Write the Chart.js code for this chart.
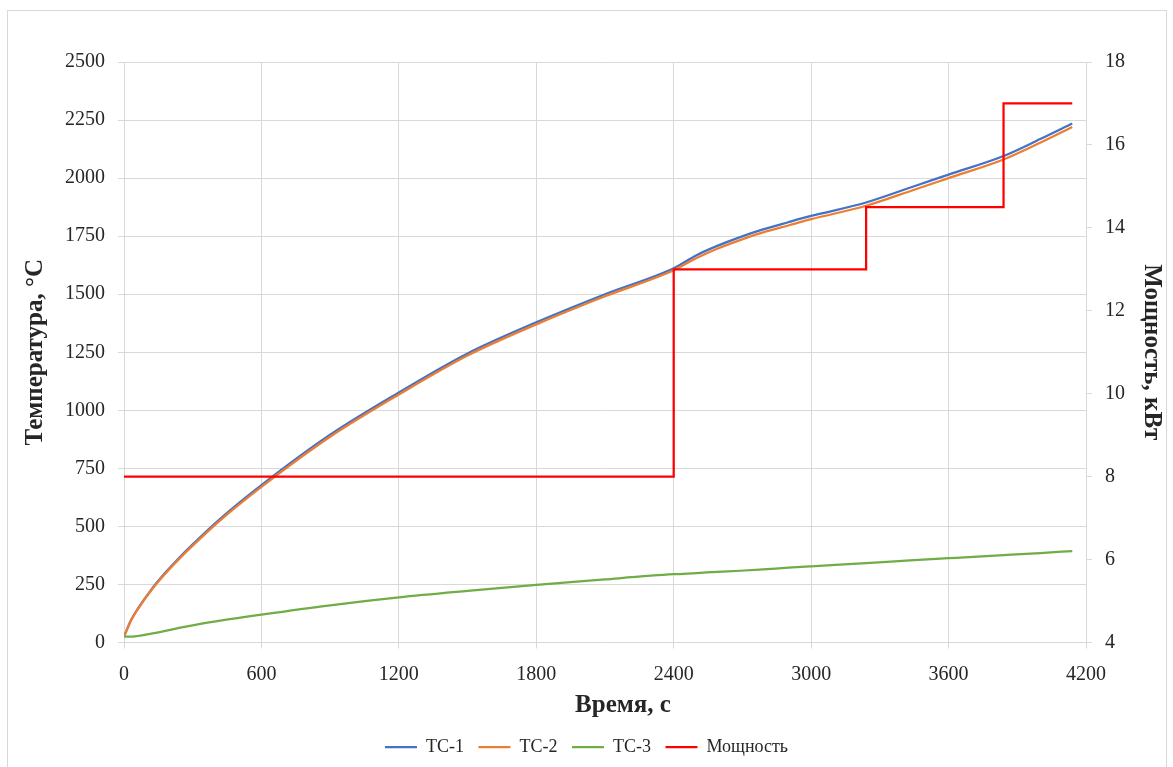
<!DOCTYPE html>
<html>
<head>
<meta charset="utf-8">
<script src="https://cdn.jsdelivr.net/npm/chart.js@4.4.1/dist/chart.umd.min.js"></script>
<style>
  html, body { margin: 0; padding: 0; background: #ffffff; }
  #wrap { position: relative; width: 1173px; height: 767px; overflow: hidden; }
  #frame { position: absolute; left: 7px; top: 10px; width: 1160px; height: 780px; border: 1px solid #d9d9d9; box-sizing: border-box; pointer-events: none; }
  canvas { position: absolute; left: 0; top: 0; }
</style>
</head>
<body>
<div id="wrap">
  <canvas id="chart" width="1173" height="767"></canvas>
  <div id="frame"></div>
</div>
<script>
// Time of each thermocouple sample, s
const timeTC = [0, 30, 60, 120, 180, 240, 300, 420, 600, 900, 1200, 1500, 1800, 2100, 2400,
                2500, 2590, 2690, 2790, 2900, 3000, 3240, 3450, 3600, 3840, 4000, 4140];
// Thermocouple readings, °C
const tc1 = [25, 95, 145, 229, 300, 364, 423, 533, 678, 895, 1077, 1245, 1379, 1500, 1612,
             1668, 1708, 1746, 1779, 1810, 1837, 1895, 1965, 2015, 2095, 2168, 2235];
const tc2 = [25, 94, 143, 226, 296, 359, 417, 526, 670, 886, 1068, 1236, 1370, 1491, 1603,
             1656, 1696, 1733, 1766, 1796, 1823, 1881, 1950, 2000, 2080, 2152, 2220];
const tc3 = [25, 25, 28, 38, 50, 63, 74, 94, 120, 160, 194, 222, 248, 272, 294,
             299, 304, 309, 315, 322, 328, 342, 355, 363, 376, 385, 394];
// Heater power schedule: level held until the next switch time
const powerTime = [0, 2400, 3240, 3840, 4140];
const power = [8, 13, 14.5, 17, 17];

// Axis tick settings
const timeTicks = { min: 0, max: 4200, step: 600 };
const tempTicks = { min: 0, max: 2500, step: 250 };
const powerTicks = { min: 4, max: 18, step: 2 };

const seriesNames = ['ТС-1', 'ТС-2', 'ТС-3', 'Мощность'];
const seriesColors = ['#4472C4', '#ED7D31', '#70AD47', '#FF0000'];
const timeTitle = 'Время, с';

const FONT = "'Liberation Serif', 'Times New Roman', serif";
const TEXT = '#262626';
const GRID = '#d9d9d9';

const toXY = (xs, ys) => xs.map((x, i) => ({ x: x, y: ys[i] }));
const plainNumber = (v) => String(v);

const lineDataset = (idx, data, axis, order, extra) => Object.assign({
  label: seriesNames[idx],
  data: data,
  yAxisID: axis,
  borderColor: seriesColors[idx],
  backgroundColor: seriesColors[idx],
  borderWidth: 2.25,
  pointRadius: 0,
  pointHoverRadius: 0,
  fill: false,
  order: order
}, extra || {});

const tickFont = { family: FONT, size: 20 };
const titleFont = { family: FONT, size: 25, weight: 'bold' };

// Horizontal axis title, set a little right of the plot centre
const timeTitlePlugin = {
  id: 'timeTitle',
  afterDraw(chart) {
    const xs = chart.scales.x;
    const ctx = chart.ctx;
    ctx.save();
    ctx.font = 'bold 25px ' + FONT;
    ctx.fillStyle = TEXT;
    ctx.textAlign = 'center';
    ctx.textBaseline = 'middle';
    ctx.fillText(timeTitle, (xs.left + xs.right) / 2 + 18, xs.bottom - 18);
    ctx.restore();
  }
};

new Chart(document.getElementById('chart'), {
  type: 'line',
  data: {
    datasets: [
      lineDataset(0, toXY(timeTC, tc1), 'y', 4, { cubicInterpolationMode: 'monotone' }),
      lineDataset(1, toXY(timeTC, tc2), 'y', 3, { cubicInterpolationMode: 'monotone' }),
      lineDataset(2, toXY(timeTC, tc3), 'y', 2, { cubicInterpolationMode: 'monotone' }),
      lineDataset(3, toXY(powerTime, power), 'y2', 1, { stepped: 'before' })
    ]
  },
  plugins: [timeTitlePlugin],
  options: {
    responsive: false,
    animation: false,
    events: [],
    layout: { padding: { left: 0, right: 0, top: 62, bottom: 1 } },
    plugins: {
      tooltip: { enabled: false },
      legend: {
        position: 'bottom',
        labels: {
          usePointStyle: true,
          pointStyle: 'line',
          pointStyleWidth: 32,
          boxHeight: 18,
          padding: 14.5,
          color: TEXT,
          font: { family: FONT, size: 18 },
          sort: (a, b) => a.datasetIndex - b.datasetIndex
        }
      }
    },
    scales: {
      x: {
        type: 'linear',
        min: timeTicks.min,
        max: timeTicks.max,
        afterFit: (s) => { s.height = 81; },
        ticks: {
          stepSize: timeTicks.step,
          padding: 14,
          color: TEXT,
          font: tickFont,
          callback: plainNumber
        },
        grid: { color: GRID, lineWidth: 1, tickLength: 6 },
        border: { color: GRID, width: 1 },
        title: { display: false }
      },
      y: {
        position: 'left',
        min: tempTicks.min,
        max: tempTicks.max,
        afterFit: (s) => { s.width = 124; },
        ticks: {
          stepSize: tempTicks.step,
          padding: 13,
          color: TEXT,
          font: tickFont,
          callback: plainNumber
        },
        grid: { color: GRID, lineWidth: 1, tickLength: 6 },
        border: { color: GRID, width: 1 },
        title: {
          display: true,
          text: 'Температура, °C',
          color: TEXT,
          font: titleFont,
          padding: { top: 21, bottom: 0 }
        }
      },
      y2: {
        position: 'right',
        min: powerTicks.min,
        max: powerTicks.max,
        afterFit: (s) => { s.width = 87; },
        ticks: {
          stepSize: powerTicks.step,
          padding: 13,
          color: TEXT,
          font: tickFont,
          callback: plainNumber
        },
        grid: { drawOnChartArea: false, color: GRID, lineWidth: 1, tickLength: 6 },
        border: { color: GRID, width: 1 },
        title: {
          display: true,
          text: 'Мощность, кВт',
          color: TEXT,
          font: titleFont,
          padding: { top: 7, bottom: 0 }
        }
      }
    }
  }
});
</script>
</body>
</html>
